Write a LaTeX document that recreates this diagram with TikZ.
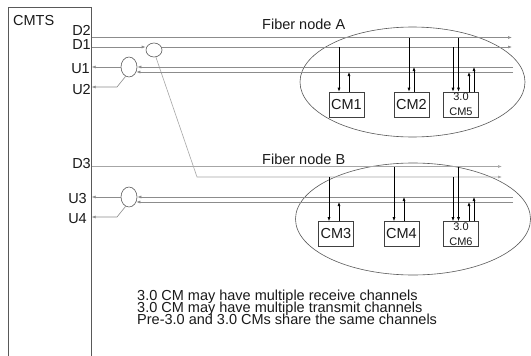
\documentclass[tikz,border=0pt]{standalone}
\usepackage{fontspec}
\setmainfont{Liberation Sans}
\usetikzlibrary{arrows.meta,shapes.geometric,calc}
\definecolor{lineg}{HTML}{8C8C8C}
\definecolor{lineb}{HTML}{A6A6A6}
\definecolor{ellg}{HTML}{595959}
\definecolor{boxg}{HTML}{404040}
\definecolor{txt}{HTML}{1A1A1A}
\newcommand\tightlines{\lineskiplimit=-100pt\relax\lineskip=0pt\relax}
\tikzset{
  hl/.style={draw=lineg, line width=0.6pt},
  harr/.style={hl, -{Latex[length=4pt,width=3pt]}},
  vl/.style={draw=black, line width=0.6pt, -{Latex[length=4pt,width=3pt]}},
  lbl/.style={inner sep=0pt, text=txt, font=\fontsize{14.5}{17}\selectfont},
  cmbox/.style={draw=boxg, line width=0.6pt, minimum width=35pt, minimum height=25pt,
    inner sep=0pt, text=txt, font=\fontsize{14.5}{17}\selectfont},
  cmbig/.style={cmbox, font=\fontsize{11}{15}\selectfont, align=center},
  splitter/.style={draw=ellg, line width=0.6pt, ellipse, inner sep=0pt},
  fibernode/.style={draw=ellg, line width=0.6pt, ellipse, inner sep=0pt}
}
\begin{document}
\begin{tikzpicture}[x=1pt,y=-1pt]
\useasboundingbox (0,0) rectangle (531,356);
\fill[white] (0,0) rectangle (531,356);

% fiber node ellipses
\node[fibernode, minimum width=225pt, minimum height=110pt] (fa) at (412.5,82) {};
\node[fibernode, minimum width=235pt, minimum height=112pt] (fb) at (413,219) {};

% CMTS box
\node[draw=ellg, line width=0.6pt, minimum width=83pt, minimum height=370pt,
      anchor=north west, inner sep=0pt] (cmts) at (8,7) {};
\node[lbl, anchor=base west] (cmtsl) at (13,25) {CMTS};
\node[lbl, anchor=base east] (ld2) at (91,35) {D2};
\node[lbl, anchor=base east] (ld1) at (91,49) {D1};
\node[lbl, anchor=base east] (lu1) at (90,74) {U1};
\node[lbl, anchor=base east] (lu2) at (91,94) {U2};
\node[lbl, anchor=base east] (ld3) at (91,168) {D3};
\node[lbl, anchor=base east] (lu3) at (87,203) {U3};
\node[lbl, anchor=base east] (lu4) at (87,223) {U4};

% line ends
\coordinate (d2e) at (512,37.5);
\coordinate (d1e) at (512,47);
\coordinate (uA1e) at (513,67);
\coordinate (uA2e) at (513,72);
\coordinate (d3e) at (502,166.5);
\coordinate (dBk) at (197,177);
\coordinate (dBe) at (502,177);
\coordinate (uB1e) at (513,197);
\coordinate (uB2e) at (513,202);
\coordinate (ukA) at (117,87);
\coordinate (ukB) at (117,217);

% splitters
\node[splitter, minimum width=16pt, minimum height=14pt] (sa) at (154,50) {};
\node[splitter, minimum width=16pt, minimum height=20pt] (ua) at (129,67) {};
\node[splitter, minimum width=16pt, minimum height=20pt] (ub) at (129,197) {};

% downstream lines
\draw[harr] (cmts.east |- d2e) -- (d2e);
\draw[harr] (cmts.east |- d1e) -- (sa.west |- d1e);
\draw[harr] (sa.east |- d1e) -- (d1e);
\draw[harr, draw=lineb] (sa.-75) -- (dBk) -- (dBe);
\draw[harr, draw=lineb] (cmts.east |- d3e) -- (d3e);

% upstream lines A
\draw[harr] (uA1e) -- (ua.east);
\draw[harr] (uA2e) -- ([xshift=-1pt]ua.east |- uA2e);
\draw[harr] (ua.west) -- (cmts.east |- ua.west);
\draw[harr] (ua.-110) -- (ukA) -- (cmts.east |- ukA);

% upstream lines B
\draw[harr] (uB1e) -- (ub.east);
\draw[harr] (uB2e) -- ([xshift=-1pt]ub.east |- uB2e);
\draw[harr] (ub.west) -- (cmts.east |- ub.west);
\draw[harr] (ub.-110) -- (ukB) -- (cmts.east |- ukB);

% fiber node labels
\node[lbl, anchor=base west] (fna) at (262,30) {Fiber node A};
\node[lbl, anchor=base west] (fnb) at (262,164.5) {Fiber node B};

% cable modems A
\node[cmbox] (cm1) at (346.5,104.5) {CM1};
\node[cmbox] (cm2) at (411.5,104.5) {CM2};
\node[cmbig] (cm5) at (461,104.5) {3.0\\CM5};

\draw[vl] ([xshift=-7.5pt]cm1.north |- d1e) -- ([xshift=-7.5pt]cm1.north);
\draw[vl] ([xshift=2.5pt]cm1.north) -- ([xshift=2.5pt]cm1.north |- uA2e);
\draw[vl] ([xshift=-2.5pt]cm2.north |- d2e) -- ([xshift=-2.5pt]cm2.north);
\draw[vl] ([xshift=2.5pt]cm2.north) -- ([xshift=2.5pt]cm2.north |- uA1e);
\draw[vl] ([xshift=-8pt]cm5.north |- d1e) -- ([xshift=-8pt]cm5.north);
\draw[vl] ([xshift=-2.5pt]cm5.north |- d2e) -- ([xshift=-2.5pt]cm5.north);
\draw[vl] ([xshift=8pt]cm5.north) -- ([xshift=8pt]cm5.north |- uA2e);
\draw[vl] ([xshift=13pt]cm5.north) -- ([xshift=13pt]cm5.north |- uA1e);

% cable modems B
\node[cmbox] (cm3) at (336,234) {CM3};
\node[cmbox] (cm4) at (401.5,234) {CM4};
\node[cmbig] (cm6) at (461,234) {3.0\\CM6};

\draw[vl] ([xshift=-7pt]cm3.north |- dBe) -- ([xshift=-7pt]cm3.north);
\draw[vl] ([xshift=3pt]cm3.north) -- ([xshift=3pt]cm3.north |- uB2e);
\draw[vl] ([xshift=-7.5pt]cm4.north |- d3e) -- ([xshift=-7.5pt]cm4.north);
\draw[vl] ([xshift=2.5pt]cm4.north) -- ([xshift=2.5pt]cm4.north |- uB1e);
\draw[vl] ([xshift=-8pt]cm6.north |- dBe) -- ([xshift=-8pt]cm6.north);
\draw[vl] ([xshift=-2.5pt]cm6.north |- d3e) -- ([xshift=-2.5pt]cm6.north);
\draw[vl] ([xshift=8pt]cm6.north) -- ([xshift=8pt]cm6.north |- uB2e);
\draw[vl] ([xshift=13pt]cm6.north) -- ([xshift=13pt]cm6.north |- uB1e);

% notes
\node[lbl, font=\fontsize{14.5}{11.65}\selectfont\tightlines,
      align=left, anchor=north west]
  (notes) at (137,290.1)
  {3.0 CM may have multiple receive channels\\
   3.0 CM may have multiple transmit channels\\
   Pre-3.0 and 3.0 CMs share the same channels};
\end{tikzpicture}
\end{document}
